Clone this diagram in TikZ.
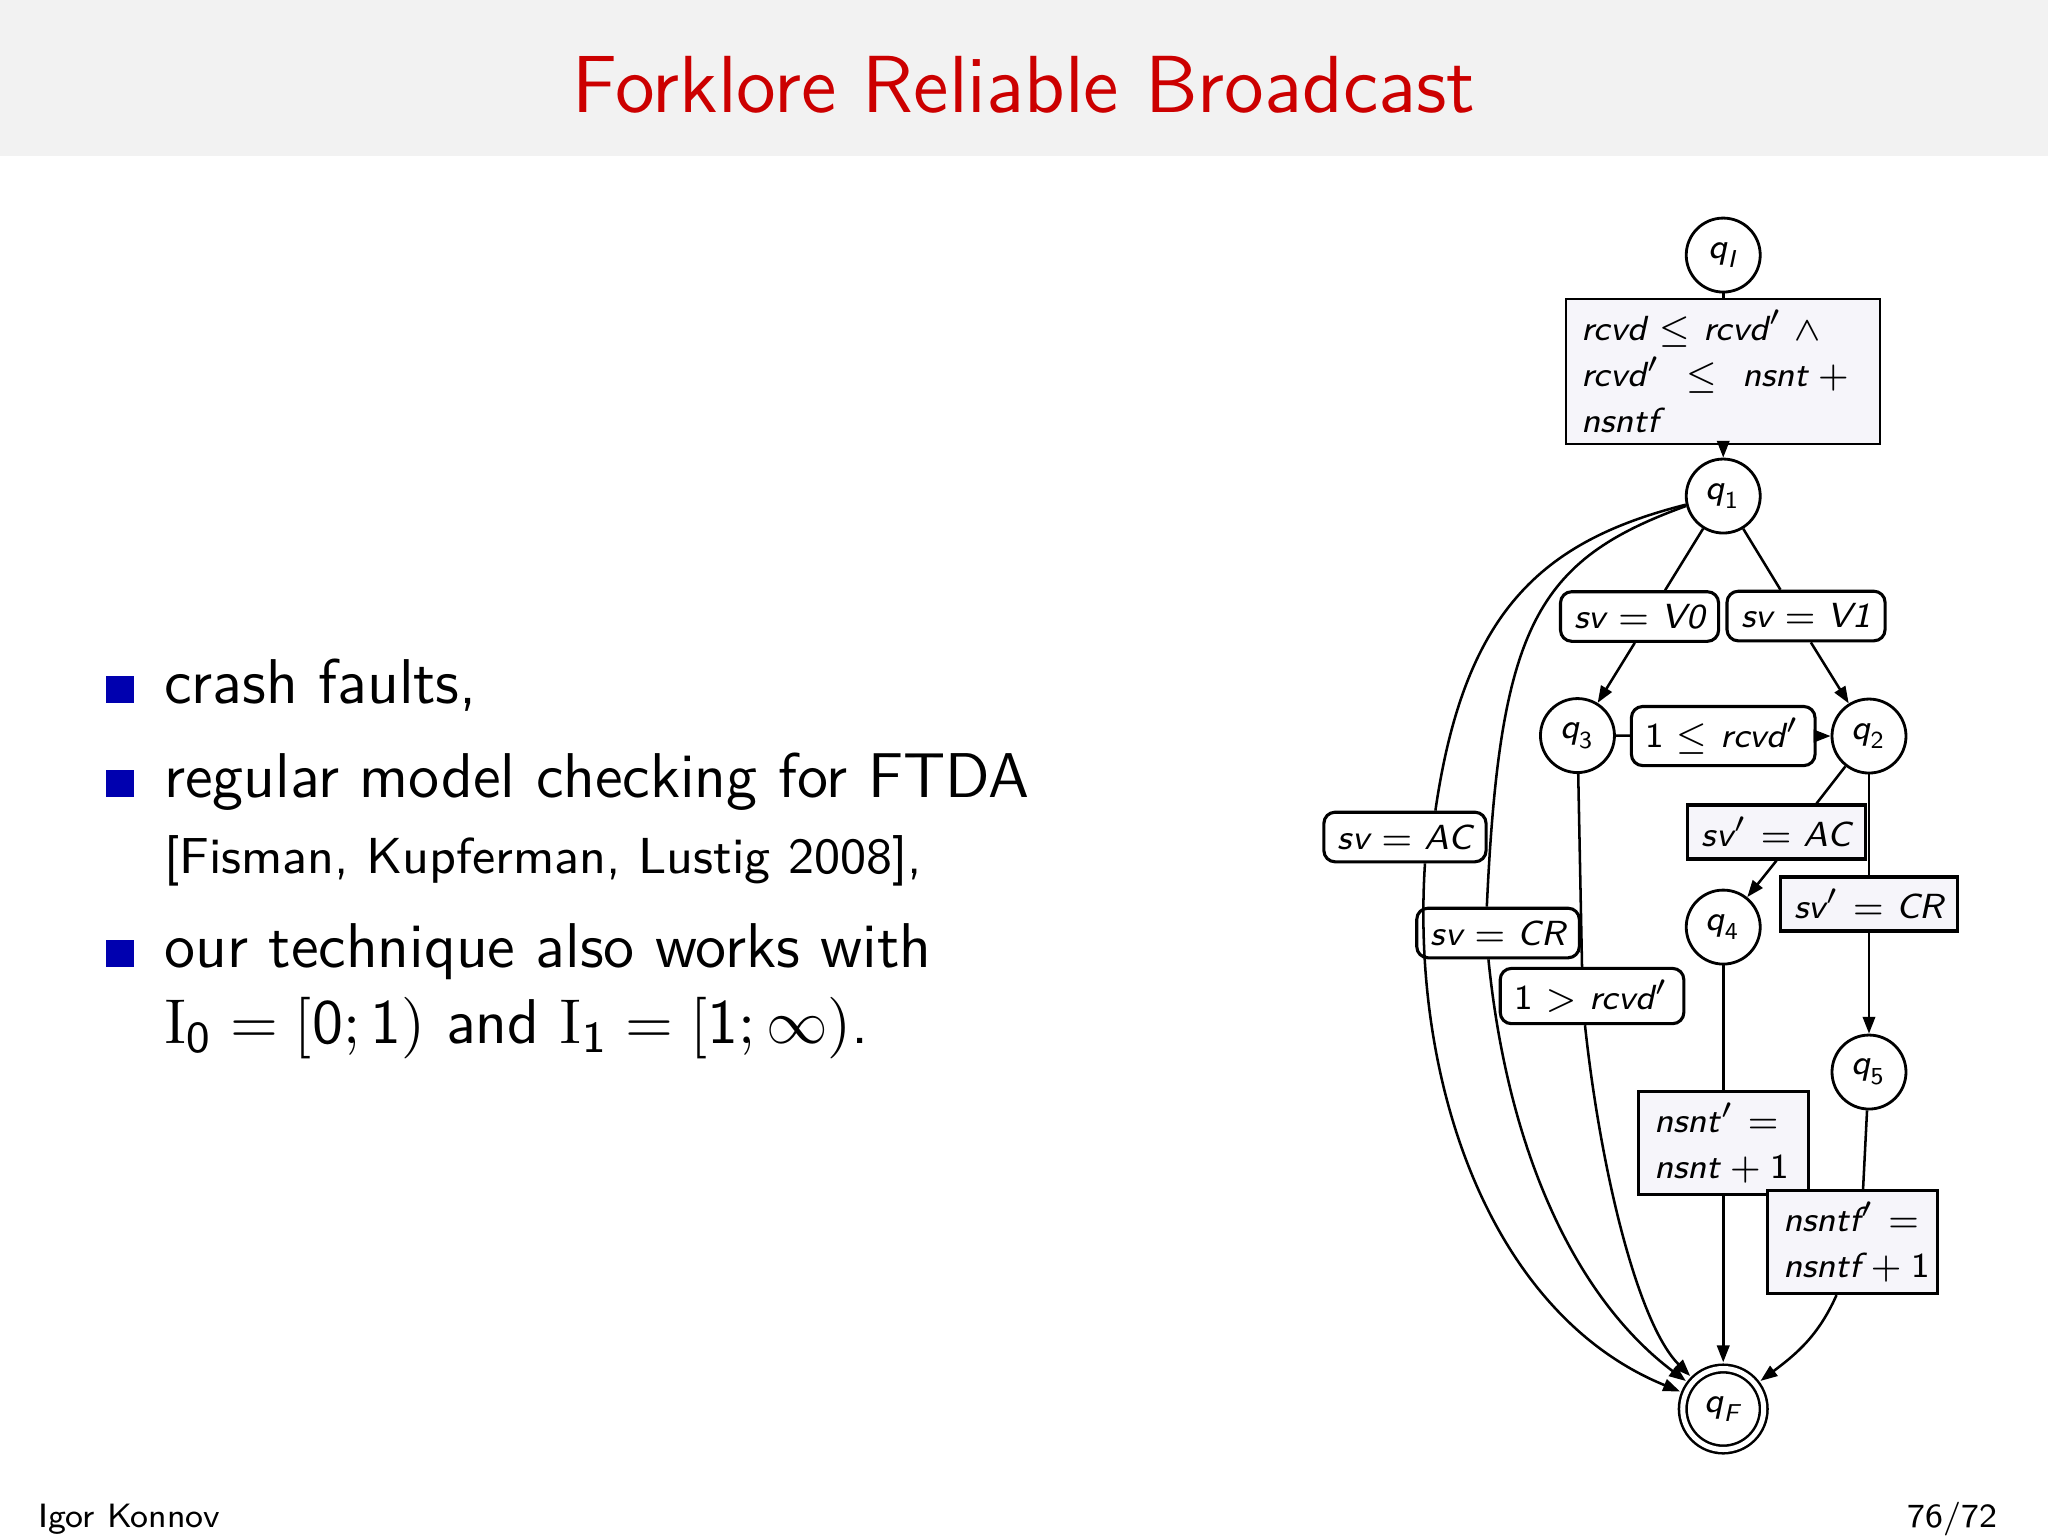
\documentclass[tikz,border=0pt]{standalone}
\usepackage{amsmath,amssymb}
\usepackage{xcolor}
\usepackage{tikz}
\usetikzlibrary{arrows.meta}
\renewcommand{\familydefault}{\sfdefault}

\definecolor{titlered}{RGB}{204,0,0}
\definecolor{bargray}{RGB}{242,242,242}
\definecolor{itemblue}{RGB}{0,0,175}
\definecolor{updfill}{RGB}{246,245,250}

\newcommand{\mv}[1]{\textit{#1}}

\tikzset{
  state/.style={circle, draw, fill=white, line width=0.5pt, minimum size=0.4625cm, inner sep=0pt},
  final/.style={state, double, double distance=0.9pt, line width=0.45pt, minimum size=0.506cm, outer sep=1.1pt},
  guard/.style={draw, fill=white, rounded corners=0.07cm, line width=0.55pt, inner xsep=2.5pt, inner ysep=2pt, minimum height=0.31cm},
  update/.style={draw, fill=updfill, line width=0.55pt, inner xsep=2.5pt, inner ysep=2pt, minimum height=0.3375cm},
  multi/.style={update, text width=0.8625cm, inner xsep=0.1cm, align=left, minimum height=0.6375cm},
  wire/.style={line width=0.45pt},
  arr/.style={wire, -{Triangle[length=3pt,width=2.2pt]}},
  bullet/.style={fill=itemblue, minimum size=0.17cm, inner sep=0pt},
  body/.style={anchor=base west, inner sep=0pt, font=\fontsize{11.25}{13.6}\selectfont},
}

\begin{document}
\begin{tikzpicture}[font=\fontsize{6.2}{8.2}\selectfont]
  \useasboundingbox (0,0) rectangle (12.8,-9.6);
  \fill[white] (0,0) rectangle (12.8,-9.6);
  \fill[bargray] (0,0) rectangle (12.8,-0.975);
  \node[anchor=base, text=titlered, font=\fontsize{14.4}{17}\selectfont] (title) at (6.4,-0.706) {Forklore Reliable Broadcast};

  % left column
  \node[bullet] (b1) at (0.75,-4.311) {};
  \node[body] (item1) at (1.02,-4.394) {crash faults,};
  \node[bullet] (b2) at (0.75,-4.898) {};
  \node[body] (item2) at (1.02,-4.981) {regular model checking for FTDA};
  \node[body, font=\fontsize{9}{11}\selectfont] (item2b) at (1.02,-5.456) {[Fisman, Kupferman, Lustig 2008],};
  \node[bullet] (b3) at (0.75,-5.961) {};
  \node[body] (item3) at (1.02,-6.044) {our technique also works with};
  \node[body] (item3b) at (1.02,-6.519) {$\textrm{I}_{\textsf{0}} = [\textsf{0};\textsf{1})$ and $\textrm{I}_{\textsf{1}} = [\textsf{1};\infty)$.};

  \node[anchor=base west, inner sep=0pt, font=\fontsize{6}{7.5}\selectfont] (author) at (0.231,-9.544) {Igor Konnov};
  \node[anchor=base east, inner sep=0pt, font=\fontsize{6}{7.5}\selectfont] (page) at (12.4875,-9.544) {76/72};

  % automaton
  \node[state] (qI) at (10.77,-1.594) {$\mv{q}_{\mv{I}}$};
  \node[update, text width=1.775cm, inner xsep=0.094cm, align=left, minimum height=0.906cm, line width=0.3pt] (gInit) at (10.77,-2.322)
    {\mbox{$\mv{rcvd} \le \mv{rcvd}' \wedge{}$}\\ \mbox{$\mv{rcvd}' \;\le\; \mv{nsnt} \mathbin{+} {}$}\\ \mbox{$\mv{nsntf}$}};
  \node[state] (q1) at (10.77,-3.1) {$\mv{q}_{\textsf{1}}$};
  \node[guard] (gV0) at (10.247,-3.853) {$\mv{sv} = \mv{V0}$};
  \node[guard] (gV1) at (11.2875,-3.85) {$\mv{sv} = \mv{V1}$};
  \node[state] (q3) at (9.859,-4.597) {$\mv{q}_{\textsf{3}}$};
  \node[guard] (gLe) at (10.77,-4.6) {$\textsf{1} \le \mv{rcvd}'$};
  \node[state] (q2) at (11.681,-4.6) {$\mv{q}_{\textsf{2}}$};
  \node[guard] (gAC) at (8.781,-5.231) {$\mv{sv} = \mv{AC}$};
  \node[guard] (gCR) at (9.3625,-5.831) {$\mv{sv} = \mv{CR}$};
  \node[guard] (gGt) at (9.95,-6.225) {$\textsf{1} > \mv{rcvd}'$};
  \node[update] (gpAC) at (11.103,-5.2) {$\mv{sv}' = \mv{AC}$};
  \node[update] (gpCR) at (11.681,-5.65) {$\mv{sv}' = \mv{CR}$};
  \node[state] (q4) at (10.77,-5.794) {$\mv{q}_{\textsf{4}}$};
  \node[state] (q5) at (11.681,-6.7) {$\mv{q}_{\textsf{5}}$};
  \node[multi] (uNsnt) at (10.77,-7.144) {\mbox{$\mv{nsnt}' ={}$}\\ \mbox{$\mv{nsnt} + \textsf{1}$}};
  \node[multi] (uNsntf) at (11.578,-7.7625) {\mbox{$\mv{nsntf}' ={}$}\\ \mbox{$\mv{nsntf} + \textsf{1}$}};
  \node[final] (qF) at (10.77,-8.806) {$\mv{q}_{\mv{F}}$};

  \draw[wire] (qI) -- (gInit);
  \draw[arr] (gInit) -- (q1);
  \draw[wire] (q1) -- ([xshift=0.16cm]gV0.north);
  \draw[arr] ([xshift=-0.03cm]gV0.south) -- (q3);
  \draw[wire] (q1) -- ([xshift=-0.16cm]gV1.north);
  \draw[arr] ([xshift=0.03cm]gV1.south) -- (q2);
  \draw[wire] (q3) -- (gLe);
  \draw[arr] (gLe) -- (q2);
  \draw[wire] (q2) -- ([xshift=0.25cm]gpAC.north);
  \draw[arr] (gpAC.south) -- (q4);
  \draw[wire] (q2) -- (gpCR);
  \draw[arr] (gpCR) -- (q5);
  \draw[wire] (q4) -- (uNsnt);
  \draw[arr] (uNsnt) -- (qF);
  \draw[wire] (q5) -- ([xshift=0.066cm]uNsntf.north);
  \draw[arr] ([xshift=-0.1cm]uNsntf.south) to[out=-114,in=37] (qF);
  % the three long ones round the left
  \draw[wire] (q1.193) .. controls +(-0.91,-0.23) and +(0.18,1.24) .. ([xshift=0.19cm]gAC.north);
  \draw[arr] ([xshift=0.125cm]gAC.south) .. controls +(-0.09,-1.38) and +(-1.45,0.59) .. (qF);
  \draw[wire] (q1.195) .. controls +(-0.94,-0.34) and +(0.08,1.75) .. ([xshift=-0.07cm]gCR.north);
  \draw[arr] ([xshift=-0.06cm]gCR.south) .. controls +(0.125,-1.245) and +(-0.9,0.675) .. (qF);
  \draw[wire] (q3) -- ([xshift=-0.0625cm]gGt.north);
  \draw[arr] ([xshift=-0.044cm]gGt.south) .. controls +(0.1,-0.93) and +(-0.53,0.53) .. (qF);
\end{tikzpicture}
\end{document}
